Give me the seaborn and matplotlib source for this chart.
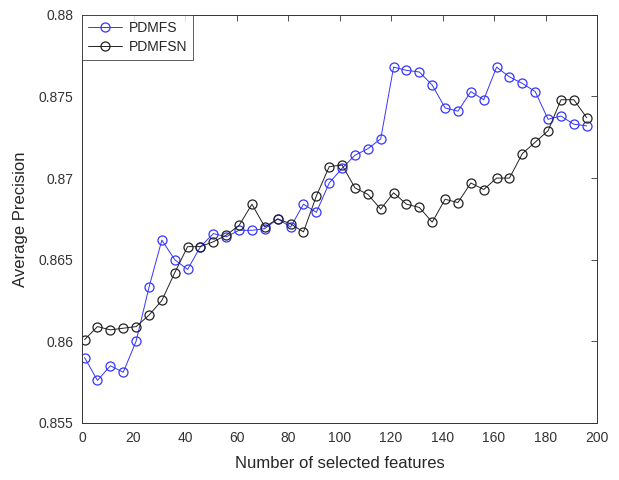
import numpy as np
import pandas as pd
import matplotlib
matplotlib.use("Agg")
import matplotlib.pyplot as plt
import seaborn as sns

features = list(range(1, 200, 5))
pdmfs = [0.8590, 0.8576, 0.8585, 0.8581, 0.8600, 0.8633, 0.8662, 0.8650, 0.8644, 0.8658,
         0.8666, 0.8664, 0.8668, 0.8668, 0.8669, 0.8675, 0.8670, 0.8684, 0.8679, 0.8697,
         0.8706, 0.8714, 0.8718, 0.8724, 0.8768, 0.8766, 0.8765, 0.8757, 0.8743, 0.8741,
         0.8753, 0.8748, 0.8768, 0.8762, 0.8758, 0.8753, 0.8736, 0.8738, 0.8733, 0.8732]
pdmfsn = [0.8601, 0.8609, 0.8607, 0.8608, 0.8609, 0.8616, 0.8625, 0.8642, 0.8658, 0.8658,
          0.8661, 0.8665, 0.8671, 0.8684, 0.8670, 0.8675, 0.8672, 0.8667, 0.8689, 0.8707,
          0.8708, 0.8694, 0.8690, 0.8681, 0.8691, 0.8684, 0.8682, 0.8673, 0.8687, 0.8685,
          0.8697, 0.8693, 0.8700, 0.8700, 0.8715, 0.8722, 0.8729, 0.8748, 0.8748, 0.8737]
series_names = ["PDMFS", "PDMFSN"]
xticks = list(range(0, 201, 20))
yticks = [0.855, 0.86, 0.865, 0.87, 0.875, 0.88]
ytick_labels = ["0.855", "0.86", "0.865", "0.87", "0.875", "0.88"]

sns.set_style("white")
plt.rcParams['font.family'] = ['Liberation Sans', 'DejaVu Sans']

df = pd.DataFrame({
    "x": features * 2,
    "y": pdmfs + pdmfsn,
    "method": [series_names[0]] * len(features) + [series_names[1]] * len(features),
})

fig = plt.figure(figsize=(6.19, 4.8), dpi=100)
ax = fig.add_axes([0.1325, 0.119, 0.832, 0.85])

colors = {"PDMFS": "#3535ff", "PDMFSN": "#222222"}
for name in series_names:
    sub = df[df["method"] == name]
    sns.lineplot(data=sub, x="x", y="y", ax=ax, color=colors[name], marker="o",
                 markersize=6.5, markerfacecolor="none", markeredgecolor=colors[name],
                 markeredgewidth=0.9, linewidth=0.7, label=name)

ax.set_xlim(0, 200)
ax.set_ylim(0.855, 0.88)
ax.set_xticks(xticks)
ax.set_xticklabels([str(t) for t in xticks])
ax.set_yticks(yticks)
ax.set_yticklabels(ytick_labels)
ax.tick_params(direction="in", top=True, right=True, length=4, width=0.6,
               labelsize=10, colors="#333333", labelcolor="#333333", pad=6)
for s in ax.spines.values():
    s.set_color("#333333")
    s.set_linewidth(0.7)
ax.set_xlabel("Number of selected features", fontsize=12, color="#262626", labelpad=8)
ax.set_ylabel("Average Precision", fontsize=12, color="#262626", labelpad=8)

leg = ax.legend(loc="upper left", fontsize=10, frameon=True, fancybox=False,
                borderaxespad=0.0, handlelength=2.4, borderpad=0.45, labelspacing=0.35,
                handletextpad=0.5)
leg.get_frame().set_edgecolor("#333333")
leg.get_frame().set_linewidth(0.7)

fig.savefig("out.png", dpi=100)
